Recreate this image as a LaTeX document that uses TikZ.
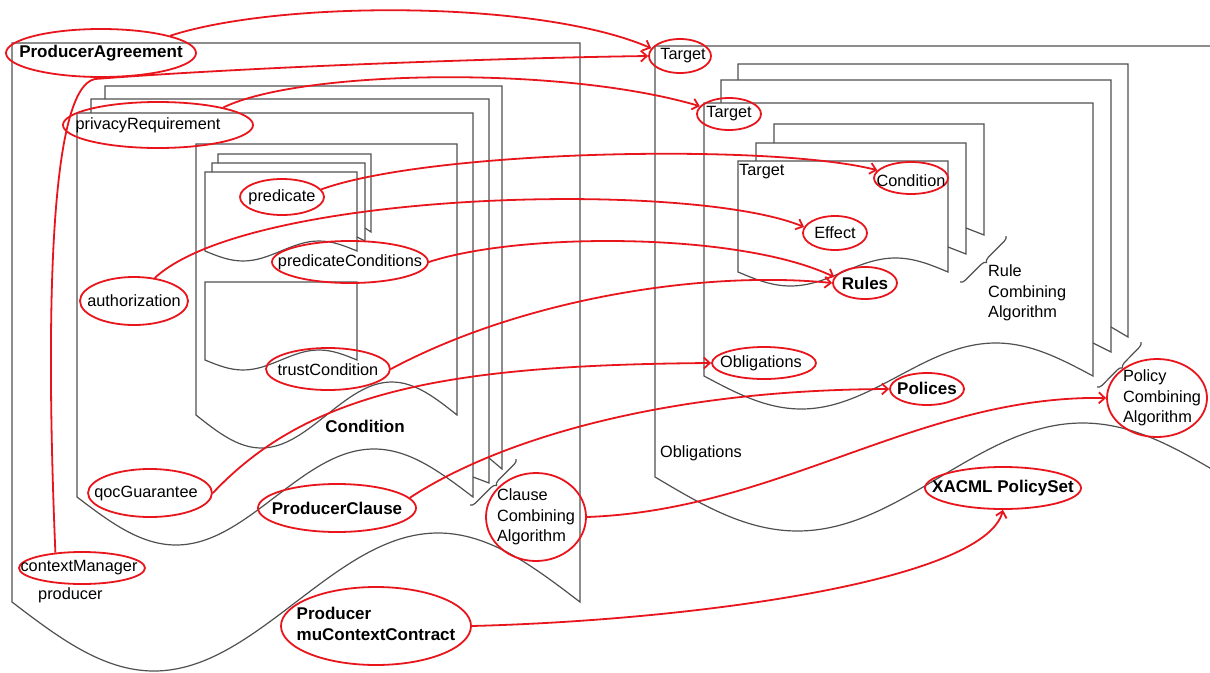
\documentclass[tikz,border=0pt]{standalone}
\usepackage{fontspec}
\setmainfont{Liberation Sans}
\usetikzlibrary{shapes.geometric,arrows.meta,decorations.pathreplacing}
\definecolor{redline}{RGB}{232,22,28}
\definecolor{docgray}{RGB}{80,80,80}
% document with wavy bottom: left top right bottom amplitude
\newcommand{\mydoc}[5]{%
  \draw[docline] (#1,#4) -- (#1,#2) -- (#3,#2) -- (#3,#4)
    sin ({#3-(#3-#1)/4},{#4-#5}) cos ({(#1+#3)/2},#4)
    sin ({#1+(#3-#1)/4},{#4+#5}) cos (#1,#4) -- cycle;}
% back sheet: left top right end tprev rprev d
\newcommand{\mysheet}[7]{%
  \draw[docline] (#1,#5) -- (#1,#2) -- (#3,#2) -- (#3,#4) -- (#6,#7);}
\begin{document}
\begin{tikzpicture}[x=1pt,y=-1pt,
  docline/.style={draw=docgray, line width=1.2pt, line join=miter},
  redell/.style={ellipse, draw=redline, line width=1.8pt, inner sep=0pt},
  txt/.style={font=\fontsize{16.3}{20.5}\selectfont, inner sep=0pt, align=left, text=black},
  btxt/.style={font=\fontsize{17}{20.5}\selectfont\bfseries, inner sep=0pt, align=left, text=black},
  conn/.style={draw=redline, line width=1.8pt, -{Straight Barb[length=6pt,width=11pt]}},
  cbrace/.style={docline, decorate, decoration={brace, amplitude=5pt, mirror}}
]
\useasboundingbox (0,0) rectangle (1210,672);
\fill[white] (0,0) rectangle (1210,672);
\clip (0,0) rectangle (1210,672);

% ---------- left: producer ----------
\mydoc{12}{43}{580}{602}{69}
\mysheet{105}{86}{502}{469}{99}{489}{458}
\mysheet{91}{99}{489}{483}{113}{473}{477}
\mydoc{77}{113}{473}{497}{48}
\mydoc{196}{144}{457}{415}{33}
\mysheet{218}{154}{371}{232}{163}{365}{228}
\mysheet{212}{163}{365}{241}{172}{357}{237}
\mydoc{205}{172}{357}{251}{10}
\mydoc{205}{282}{357}{360}{10}
\draw[cbrace] (470,505) -- (516,459);

% ---------- right: XACML ----------
\mydoc{655}{46}{1225}{477}{54}
\mysheet{738}{64}{1128}{337}{80}{1111}{327}
\mysheet{721}{80}{1111}{352}{103}{1093}{343}
\mydoc{704}{103}{1093}{376}{33}
\mysheet{774}{124}{984}{235}{143}{966}{228}
\mysheet{756}{143}{966}{254}{161}{948}{247}
\mydoc{738}{161}{948}{272}{14}
\draw[cbrace] (960,282) -- (1006,236);
\draw[cbrace] (1097,387) -- (1141,342);

% ---------- plain labels ----------
\node[txt, anchor=west] (tgt3) at (739,172) {Target};
\node[txt, anchor=west] (rca) at (988,293) {Rule\\Combining\\Algorithm};
\node[txt, anchor=west] (obl2) at (660,453) {Obligations};
\node[txt, anchor=west] (prod) at (38,595) {producer};
\node[btxt] (cond) at (365,426) {Condition};

% ---------- red ellipses ----------
\node[redell, minimum width=190pt, minimum height=48pt, label={[btxt]center:ProducerAgreement}] (pa) at (101,53) {};
\node[redell, minimum width=190pt, minimum height=46pt, label={[txt, xshift=-10pt]center:privacyRequirement}] (pr) at (158,125) {};
\node[redell, minimum width=84pt, minimum height=36pt, label={[txt]center:predicate}] (pred) at (282,197) {};
\node[redell, minimum width=108pt, minimum height=48pt, label={[txt]center:authorization}] (auth) at (134,301) {};
\node[redell, minimum width=156pt, minimum height=42pt, label={[txt]center:predicateConditions}] (pc) at (350,262) {};
\node[redell, minimum width=124pt, minimum height=42pt, label={[txt, yshift=-1pt]center:trustCondition}] (tc) at (328,369) {};
\node[redell, minimum width=124pt, minimum height=48pt, label={[txt, xshift=-4pt]center:qocGuarantee}] (qoc) at (150,493) {};
\node[redell, minimum width=158pt, minimum height=48pt, label={[btxt]center:ProducerClause}] (pcl) at (337,508) {};
\node[redell, minimum width=126pt, minimum height=32pt, label={[txt, xshift=-3pt]center:contextManager}] (cm) at (82,568) {};
\node[redell, minimum width=190pt, minimum height=78pt, label={[btxt, yshift=2pt]center:Producer\\muContextContract}] (pmcc) at (376,626) {};
\node[redell, minimum width=100pt, minimum height=88pt, label={[txt]center:Clause\\Combining\\Algorithm}] (cca) at (536,517) {};
\node[redell, minimum width=62pt, minimum height=34pt, label={[txt, xshift=3pt]center:Target}] (tgt1) at (680,56) {};
\node[redell, minimum width=64pt, minimum height=32pt, label={[txt]center:Target}] (tgt2) at (729,114) {};
\node[redell, minimum width=74pt, minimum height=32pt, label={[txt, yshift=-3pt]center:Condition}] (condR) at (911,178) {};
\node[redell, minimum width=64pt, minimum height=34pt, label={[txt]center:Effect}] (eff) at (835,233) {};
\node[redell, minimum width=64pt, minimum height=32pt, label={[btxt]center:Rules}] (rules) at (865,283) {};
\node[redell, minimum width=104pt, minimum height=32pt, label={[txt, xshift=-3pt]center:Obligations}] (oblE) at (764,363) {};
\node[redell, minimum width=74pt, minimum height=32pt, label={[btxt, yshift=1pt]center:Polices}] (pol) at (927,389) {};
\node[redell, minimum width=100pt, minimum height=78pt, label={[txt, xshift=5pt]center:Policy\\Combining\\Algorithm}] (pca) at (1157,398) {};
\node[redell, minimum width=156pt, minimum height=42pt, label={[btxt]center:XACML PolicySet}] (xacml) at (1003,488) {};

% ---------- red connectors ----------
\draw[conn] (pa.14) .. controls (280,0) and (540,0) .. (tgt1.165);
\draw[conn] (cm.150) .. controls (46,330) and (48,88) .. (95,79) .. controls (250,67) and (500,58) .. (tgt1.west);
\draw[conn] (pr.15) .. controls (300,70) and (560,65) .. (tgt2.165);
\draw[conn] (pred.11) .. controls (430,150) and (770,143) .. (condR.167);
\draw[conn] (auth.48) .. controls (250,190) and (690,180) .. (eff.169);
\draw[conn] (pc.east) .. controls (520,232) and (740,232) .. (rules.169);
\draw[conn] (tc.east) .. controls (520,300) and (700,270) .. (rules.west);
\draw[conn] (qoc.east) .. controls (310,390) and (450,365) .. (oblE.west);
\draw[conn] (pcl.8) .. controls (490,445) and (650,390) .. (pol.west);
\draw[conn] (cca.east) .. controls (780,510) and (920,395) .. (pca.west);
\draw[conn] (pmcc.east) .. controls (700,620) and (985,580) .. (xacml.south);
\end{tikzpicture}
\end{document}
